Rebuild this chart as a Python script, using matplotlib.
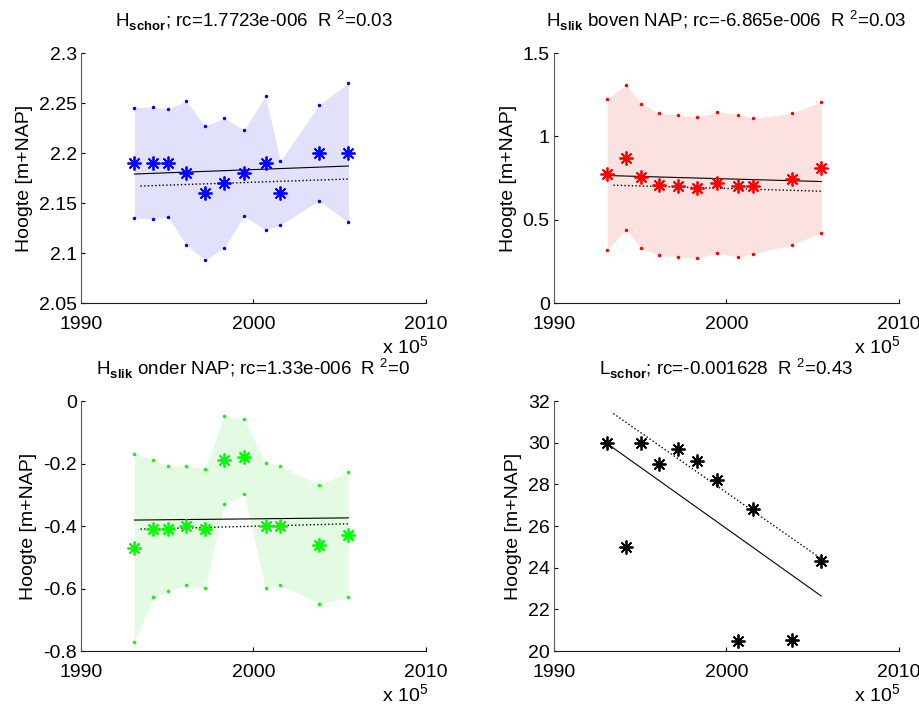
import matplotlib
matplotlib.use("Agg")
import matplotlib.pyplot as plt
from matplotlib.ticker import FuncFormatter

plt.rcParams['font.family'] = ['Liberation Sans', 'DejaVu Sans']
plt.rcParams['mathtext.fontset'] = 'custom'
plt.rcParams['mathtext.rm'] = 'Liberation Sans'
plt.rcParams['mathtext.bf'] = 'Liberation Sans:bold'
plt.rcParams['axes.unicode_minus'] = False

# Data (years of the surveys)
years = [1993.1, 1994.2, 1995.05, 1996.1, 1997.2, 1998.3, 1999.45, 2000.7, 2001.55, 2003.8, 2005.5]

# H schor
schor_mean = [2.19, 2.19, 2.19, 2.18, 2.16, 2.17, 2.18, 2.19, 2.16, 2.20, 2.20]
schor_upper = [2.245, 2.246, 2.244, 2.252, 2.227, 2.235, 2.223, 2.257, 2.192, 2.248, 2.270]
schor_lower = [2.135, 2.134, 2.136, 2.108, 2.093, 2.105, 2.137, 2.123, 2.128, 2.152, 2.131]
schor_fit = [2.179, 2.187]
schor_fit2 = [2.167, 2.174]

# H slik boven NAP
boven_mean = [0.773, 0.872, 0.759, 0.709, 0.700, 0.688, 0.721, 0.700, 0.700, 0.743, 0.811]
boven_upper = [1.223, 1.311, 1.197, 1.139, 1.127, 1.116, 1.146, 1.131, 1.108, 1.139, 1.207]
boven_lower = [0.321, 0.438, 0.329, 0.287, 0.277, 0.269, 0.299, 0.277, 0.297, 0.349, 0.422]
boven_fit = [0.765, 0.729]
boven_fit2 = [0.707, 0.671]

# H slik onder NAP
onder_mean = [-0.469, -0.411, -0.411, -0.400, -0.411, -0.189, -0.179, -0.400, -0.400, -0.461, -0.430]
onder_upper = [-0.169, -0.189, -0.208, -0.208, -0.218, -0.047, -0.059, -0.198, -0.208, -0.269, -0.228]
onder_lower = [-0.770, -0.628, -0.608, -0.589, -0.598, -0.329, -0.299, -0.598, -0.589, -0.649, -0.628]
onder_fit = [-0.381, -0.374]
onder_fit2 = [-0.410, -0.393]

# L schor
lschor = [30.0, 25.0, 30.0, 29.0, 29.7, 29.1, 28.2, 20.5, 26.8, 20.55, 24.3]
lschor_fit = [29.95, 22.64]
lschor_fit2 = [31.4, 24.43]

fit_x = [1993.1, 2005.5]
fit2_x = [1993.45, 2005.5]

titles = [r'H$_{\mathbf{schor}}$; rc=1.7723e-006  R $^{2}$=0.03',
          r'H$_{\mathbf{slik}}$ boven NAP; rc=-6.865e-006  R $^{2}$=0.03',
          r'H$_{\mathbf{slik}}$ onder NAP; rc=1.33e-006  R $^{2}$=0',
          r'L$_{\mathbf{schor}}$; rc=-0.001628  R $^{2}$=0.43']

fig = plt.figure(figsize=(9.2, 7.09), dpi=100)
positions = [[0.088, 0.5726, 0.375, 0.3526], [0.602, 0.5726, 0.375, 0.3526],
             [0.088, 0.0818, 0.375, 0.3526], [0.602, 0.0818, 0.375, 0.3526]]
axes = [fig.add_axes(p) for p in positions]

panels = [
    (schor_mean, schor_upper, schor_lower, schor_fit, schor_fit2, 'blue', '#e1e1fb', (2.05, 2.3), [2.05, 2.1, 2.15, 2.2, 2.25, 2.3]),
    (boven_mean, boven_upper, boven_lower, boven_fit, boven_fit2, 'red', '#fce1e1', (0, 1.5), [0, 0.5, 1, 1.5]),
    (onder_mean, onder_upper, onder_lower, onder_fit, onder_fit2, '#00ff00', '#e3fbe3', (-0.8, 0), [-0.8, -0.6, -0.4, -0.2, 0]),
    (lschor, None, None, lschor_fit, lschor_fit2, 'black', None, (20, 32), [20, 22, 24, 26, 28, 30, 32]),
]

for ax, (mean, upper, lower, fit, fit2, col, fill, ylim, yticks), title in zip(axes, panels, titles):
    if upper is not None:
        ax.fill_between(years, lower, upper, color=fill, lw=0)
        ax.plot(years, upper, '.', color=col, ms=3)
        ax.plot(years, lower, '.', color=col, ms=3)
    ax.plot(fit_x, fit, '-', color='black', lw=0.8)
    ax.plot(fit2_x, fit2, ':', color='black', lw=1.0)
    ax.plot(years, mean, ls='none', marker=(8, 2, 0), ms=10, mew=1.3, color=col)
    ax.set_xlim(1990, 2010)
    ax.set_xticks([1990, 2000, 2010])
    ax.set_ylim(*ylim)
    ax.set_yticks(yticks)
    ax.yaxis.set_major_formatter(FuncFormatter(lambda v, p: '{:g}'.format(v)))
    ax.spines['top'].set_visible(False)
    ax.spines['right'].set_visible(False)
    ax.spines['left'].set_color('0.35')
    ax.spines['bottom'].set_color('0.1')
    ax.tick_params(direction='in', length=3, labelsize=14, pad=3)
    ax.tick_params(axis='x', pad=9)
    ax.set_ylabel('Hoogte [m+NAP]', fontsize=14, labelpad=4)
    ax.set_title(title, fontsize=13.5, pad=18)
    ax.annotate(r'x 10$^{5}$', xy=(1, 0), xycoords='axes fraction',
                xytext=(-32, -37), textcoords='offset points', fontsize=14, ha='left')

plt.savefig('out.png', dpi=100)
